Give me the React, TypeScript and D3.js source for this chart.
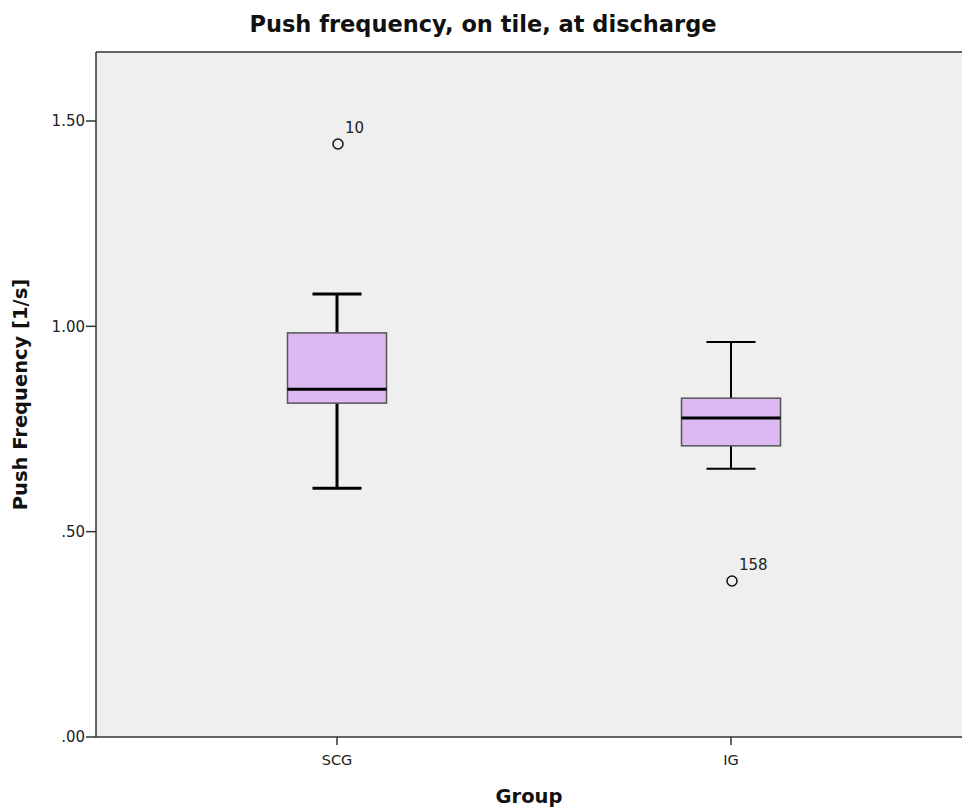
import React from "react";
import * as d3 from "d3";

// Box plot summary per group (Push frequency [1/s])
const groups = ["SCG", "IG"];
const whiskerLow = [0.606, 0.653];
const q1 = [0.813, 0.709];
const median = [0.847, 0.777];
const q3 = [0.984, 0.825];
const whiskerHigh = [1.079, 0.962];
const outlierGroup = ["SCG", "IG"];
const outlierValue = [1.444, 0.38];
const outlierLabel = ["10", "158"];
const yTicks = [0, 0.5, 1.0, 1.5];
const yTickLabels = [".00", ".50", "1.00", "1.50"];

const W = 962;
const H = 812;
const plot = { left: 96, top: 52, right: 963, bottom: 737 };

export default function App() {
  const y = d3.scaleLinear().domain([0, 1.668]).range([plot.bottom, plot.top]);
  const x = d3.scalePoint<string>().domain(groups).range([337, 731]);
  const boxW = 99;
  const capW = 49;
  const whiskerStroke = [3, 2];
  const font = "'DejaVu Sans', Verdana, sans-serif";
  const plotCenterX = (plot.left + 962) / 2;

  return (
    <svg
      width={W}
      height={H}
      style={{ position: "absolute", left: 0, top: 0, background: "#fff" }}
    >
      <text
        x={483}
        y={32}
        textAnchor="middle"
        fontFamily={font}
        fontWeight="bold"
        fontSize={22.5}
        fill="#111"
      >
        Push frequency, on tile, at discharge
      </text>

      <rect
        x={plot.left}
        y={plot.top}
        width={plot.right - plot.left}
        height={plot.bottom - plot.top}
        fill="#efefef"
      />
      <line x1={plot.left} x2={plot.right} y1={plot.top} y2={plot.top} stroke="#333" strokeWidth={1.5} />
      <line x1={plot.left} x2={plot.left} y1={plot.top} y2={plot.bottom} stroke="#333" strokeWidth={1.5} />
      <line x1={plot.left} x2={plot.right} y1={plot.bottom} y2={plot.bottom} stroke="#333" strokeWidth={1.5} />

      {yTicks.map((t, i) => (
        <g key={t}>
          <line x1={plot.left - 10} x2={plot.left} y1={y(t)} y2={y(t)} stroke="#333" strokeWidth={1.5} />
          <text
            x={plot.left - 11}
            y={y(t)}
            dy="0.36em"
            textAnchor="end"
            fontFamily={font}
            fontSize={15}
            fill="#222"
          >
            {yTickLabels[i]}
          </text>
        </g>
      ))}

      {groups.map((g) => (
        <g key={g}>
          <line x1={x(g)} x2={x(g)} y1={plot.bottom} y2={plot.bottom + 8} stroke="#333" strokeWidth={1.5} />
          <text
            x={x(g)}
            y={plot.bottom + 28}
            textAnchor="middle"
            fontFamily={font}
            fontSize={14.5}
            fill="#222"
          >
            {g}
          </text>
        </g>
      ))}

      {groups.map((g, i) => {
        const cx = x(g) as number;
        const sw = whiskerStroke[i];
        return (
          <g key={g}>
            <line x1={cx} x2={cx} y1={y(whiskerHigh[i])} y2={y(q3[i])} stroke="#000" strokeWidth={sw} />
            <line x1={cx} x2={cx} y1={y(q1[i])} y2={y(whiskerLow[i])} stroke="#000" strokeWidth={sw} />
            <line x1={cx - capW / 2} x2={cx + capW / 2} y1={y(whiskerHigh[i])} y2={y(whiskerHigh[i])} stroke="#000" strokeWidth={sw} />
            <line x1={cx - capW / 2} x2={cx + capW / 2} y1={y(whiskerLow[i])} y2={y(whiskerLow[i])} stroke="#000" strokeWidth={sw} />
            <rect
              x={cx - boxW / 2}
              y={y(q3[i])}
              width={boxW}
              height={y(q1[i]) - y(q3[i])}
              fill="#ddb9f1"
              stroke="#555"
              strokeWidth={1.5}
            />
            <line x1={cx - boxW / 2} x2={cx + boxW / 2} y1={y(median[i])} y2={y(median[i])} stroke="#000" strokeWidth={3} />
          </g>
        );
      })}

      {outlierValue.map((v, i) => {
        const cx = x(outlierGroup[i]) as number;
        return (
          <g key={i}>
            <circle cx={cx + 1} cy={y(v)} r={5} fill="none" stroke="#111" strokeWidth={1.5} />
            <text x={cx + 8} y={y(v) - 11} fontFamily={font} fontSize={15} fill="#222">
              {outlierLabel[i]}
            </text>
          </g>
        );
      })}

      <text
        transform={`translate(27, ${(plot.top + plot.bottom) / 2}) rotate(-90)`}
        textAnchor="middle"
        fontFamily={font}
        fontWeight="bold"
        fontSize={19.5}
        fill="#111"
      >
        Push Frequency [1/s]
      </text>
      <text
        x={plotCenterX}
        y={803}
        textAnchor="middle"
        fontFamily={font}
        fontWeight="bold"
        fontSize={19.5}
        fill="#111"
      >
        Group
      </text>
    </svg>
  );
}
